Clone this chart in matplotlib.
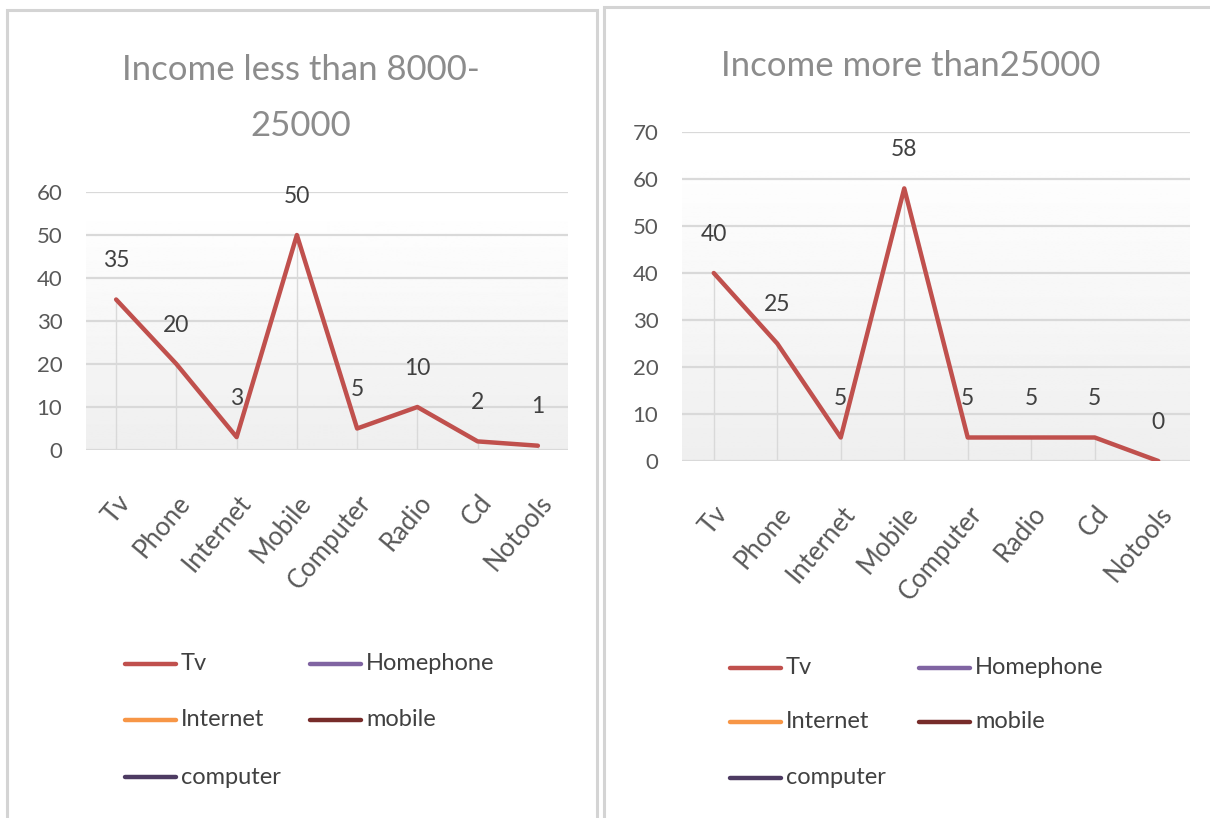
import matplotlib
matplotlib.use("Agg")
import matplotlib.pyplot as plt
import numpy as np
from matplotlib.patches import Rectangle
from matplotlib.lines import Line2D

categories = ["Tv", "Phone", "Internet", "Mobile", "Computer", "Radio", "Cd", "Notools"]
low_income = [35, 20, 3, 50, 5, 10, 2, 1]
high_income = [40, 25, 5, 58, 5, 5, 5, 0]
low_ticks = [0, 10, 20, 30, 40, 50, 60]
high_ticks = [0, 10, 20, 30, 40, 50, 60, 70]
legend_labels = ["Tv", "Homephone", "Internet", "mobile", "computer"]
legend_colors = ["#c0504d", "#8064a2", "#f79646", "#772c2a", "#4d3b62"]

FONT = ["Lato", "DejaVu Sans"]
LINE_COLOR = "#c0504d"
GRID = "#d9d9d9"

W, H = 1210, 818
fig = plt.figure(figsize=(W / 100, H / 100), dpi=100)


def px_box(x0, y0, x1, y1):
    return [x0 / W, 1 - y1 / H, (x1 - x0) / W, (y1 - y0) / H]


# outer chart frames
for x0, y0, x1 in [(7, 10, 597), (604, 7, 1216)]:
    fig.patches.append(Rectangle((x0 / W, -0.01), (x1 - x0) / W, 1 - y0 / H + 0.01,
                                 transform=fig.transFigure, fill=False,
                                 edgecolor="#d4d4d4", linewidth=2.2))


def draw_panel(box, values, ticks, title_lines, title_ys, title_x):
    ax = fig.add_axes(box)
    n = len(categories)
    x = np.arange(n)
    ymax = ticks[-1]
    # soft vertical gradient behind the plot, white at the top
    grad = np.concatenate([np.ones(30), np.linspace(0.995, 0.935, 226)]).reshape(-1, 1)
    ax.imshow(grad, extent=[-0.5, n - 0.5, 0, ymax], origin="upper", cmap="gray",
              vmin=0, vmax=1, aspect="auto", zorder=0)
    ax.set_xlim(-0.5, n - 0.5)
    ax.set_ylim(0, ymax)
    for t in ticks:
        ax.axhline(t, color=GRID, lw=1.6, zorder=1)
    ax.vlines(x, 0, values, color=GRID, lw=1.0, zorder=1)
    ax.plot(x, values, color=LINE_COLOR, lw=3.2, solid_capstyle="round", zorder=3)
    for xi, v in zip(x, values):
        ax.annotate(str(v), (xi, v), xytext=(0, 28), textcoords="offset points",
                    ha="center", va="center", fontsize=16.5, color="#404040",
                    family=FONT)
    for s in ax.spines.values():
        s.set_visible(False)
    ax.set_yticks(ticks)
    ax.set_yticklabels([str(t) for t in ticks], family=FONT, fontsize=16, color="#595959")
    ax.set_xticks(x)
    ax.set_xticklabels(categories, rotation=50, ha="right", va="top",
                       rotation_mode="anchor", fontsize=18.5, color="#595959",
                       family=FONT)
    ax.tick_params(axis="y", length=0, pad=17)
    ax.tick_params(axis="x", length=0, pad=29)
    ax.patch.set_alpha(0)
    for line, ty in zip(title_lines, title_ys):
        fig.text(title_x / W, 1 - ty / H, line, ha="center", va="center",
                 fontsize=25, color="#8c8c8c", family=FONT)
    return ax


draw_panel(px_box(86, 192, 568, 450), low_income, low_ticks,
           ["Income less than 8000-", "25000"], [70, 126], 301)
draw_panel(px_box(682, 132, 1190, 461), high_income, high_ticks,
           ["Income more than25000"], [66], 911)


def draw_legend(x_left, x_right, rows):
    for i, (lab, col) in enumerate(zip(legend_labels, legend_colors)):
        r, c = divmod(i, 2)
        xs = x_left if c == 0 else x_right
        y = rows[r]
        fig.add_artist(Line2D([xs / W, (xs + 51) / W], [1 - y / H, 1 - y / H],
                              color=col, lw=3.2, solid_capstyle="round",
                              transform=fig.transFigure))
        fig.text((xs + 56) / W, 1 - y / H, lab, ha="left", va="center",
                 fontsize=17, color="#404040", family=FONT)


draw_legend(125, 310, [664, 720, 777])
draw_legend(730, 919, [668, 722, 778])

fig.savefig("out.png", dpi=100)
